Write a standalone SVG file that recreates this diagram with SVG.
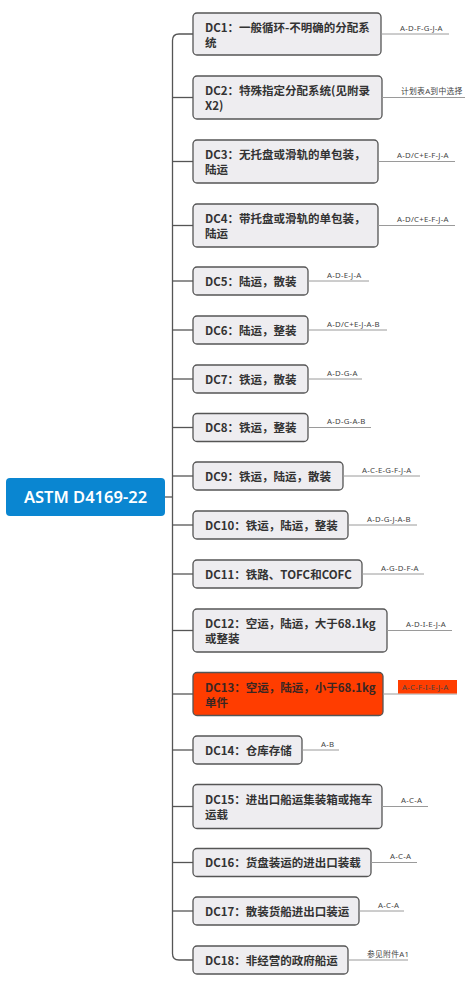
<svg xmlns="http://www.w3.org/2000/svg" width="472" height="987" viewBox="0 0 472 987">
<style>
.bg{fill:#ffffff}
.node{fill:#EEEDF0;stroke:#555555;stroke-width:1.3}
.hot{fill:#FF3D00;stroke:#555555;stroke-width:1.3}
.t{font-family:"Noto Sans CJK SC","Noto Sans",sans-serif;font-size:11.5px;font-weight:bold;fill:#333333}
.th{font-family:"Noto Sans CJK SC","Noto Sans",sans-serif;font-size:11.5px;font-weight:bold;fill:#3a2622}
.lbl{font-family:"Noto Sans","Noto Sans CJK SC",sans-serif;font-size:7.8px;fill:#444444;letter-spacing:0.25px}
.ul{stroke:#9a9a9a;stroke-width:1;fill:none}
.con{stroke:#555555;stroke-width:1.3;fill:none}
.root{fill:#0A86D1}
.rt{font-family:"Noto Sans","Liberation Sans",sans-serif;font-size:16.5px;font-weight:600;fill:#ffffff}
</style>
<rect class="bg" x="0" y="0" width="472" height="987"/>
<g id="connectors">
<path class="con" d="M165,497 H172.5"/>
<path class="con" d="M193,34 H179 Q172.5,34 172.5,40.5 V953.5 Q172.5,960 179,960 H193"/>
<path class="con" d="M172.5,97.5 H193"/>
<path class="con" d="M172.5,161.5 H193"/>
<path class="con" d="M172.5,225.5 H193"/>
<path class="con" d="M172.5,281 H193"/>
<path class="con" d="M172.5,330 H193"/>
<path class="con" d="M172.5,379 H193"/>
<path class="con" d="M172.5,427.5 H193"/>
<path class="con" d="M172.5,476 H193"/>
<path class="con" d="M172.5,525 H193"/>
<path class="con" d="M172.5,574 H193"/>
<path class="con" d="M172.5,630.5 H193"/>
<path class="con" d="M172.5,694 H193"/>
<path class="con" d="M172.5,750 H193"/>
<path class="con" d="M172.5,806.5 H193"/>
<path class="con" d="M172.5,862.5 H193"/>
<path class="con" d="M172.5,911 H193"/>
</g>
<g id="root">
<rect class="root" x="6" y="478" width="159" height="38" rx="4"/>
<text class="rt" x="85.5" y="502.8" text-anchor="middle">ASTM D4169-22</text>
</g>
<g id="dc1">
<rect class="node" x="193" y="13" width="188" height="42" rx="4"/>
<text class="t" x="205" y="32">DC1：一般循环-不明确的分配系<tspan x="205" dy="15">统</tspan></text>
<path class="ul" d="M381,34 H449"/>
<text class="lbl" x="400" y="30.5">A-D-F-G-J-A</text>
</g>
<g id="dc2">
<rect class="node" x="193" y="76" width="189" height="43" rx="4"/>
<text class="t" x="205" y="95">DC2：特殊指定分配系统(见附录<tspan x="205" dy="15">X2)</tspan></text>
<path class="ul" d="M382,97.5 H465"/>
<text class="lbl" x="401" y="94">计划表A到中选择</text>
</g>
<g id="dc3">
<rect class="node" x="193" y="140" width="185" height="43" rx="4"/>
<text class="t" x="205" y="159">DC3：无托盘或滑轨的单包装，<tspan x="205" dy="15">陆运</tspan></text>
<path class="ul" d="M378,161.5 H455"/>
<text class="lbl" x="397" y="158">A-D/C+E-F-J-A</text>
</g>
<g id="dc4">
<rect class="node" x="193" y="204" width="185" height="43" rx="4"/>
<text class="t" x="205" y="223">DC4：带托盘或滑轨的单包装，<tspan x="205" dy="15">陆运</tspan></text>
<path class="ul" d="M378,225.5 H455"/>
<text class="lbl" x="397" y="222">A-D/C+E-F-J-A</text>
</g>
<g id="dc5">
<rect class="node" x="193" y="267" width="115" height="28" rx="4"/>
<text class="t" x="205" y="285.5">DC5：陆运，散装</text>
<path class="ul" d="M308,281 H369"/>
<text class="lbl" x="327" y="277.5">A-D-E-J-A</text>
</g>
<g id="dc6">
<rect class="node" x="193" y="316" width="115" height="28" rx="4"/>
<text class="t" x="205" y="334.5">DC6：陆运，整装</text>
<path class="ul" d="M308,330 H387"/>
<text class="lbl" x="327" y="326.5">A-D/C+E-J-A-B</text>
</g>
<g id="dc7">
<rect class="node" x="193" y="365" width="115" height="28" rx="4"/>
<text class="t" x="205" y="383.5">DC7：铁运，散装</text>
<path class="ul" d="M308,379 H362"/>
<text class="lbl" x="327" y="375.5">A-D-G-A</text>
</g>
<g id="dc8">
<rect class="node" x="193" y="413.5" width="115" height="28" rx="4"/>
<text class="t" x="205" y="432">DC8：铁运，整装</text>
<path class="ul" d="M308,427.5 H371"/>
<text class="lbl" x="327" y="424">A-D-G-A-B</text>
</g>
<g id="dc9">
<rect class="node" x="193" y="462" width="150" height="28" rx="4"/>
<text class="t" x="205" y="480.5">DC9：铁运，陆运，散装</text>
<path class="ul" d="M343,476 H420"/>
<text class="lbl" x="362" y="472.5">A-C-E-G-F-J-A</text>
</g>
<g id="dc10">
<rect class="node" x="193" y="511" width="155" height="28" rx="4"/>
<text class="t" x="205" y="529.5">DC10：铁运，陆运，整装</text>
<path class="ul" d="M348,525 H417"/>
<text class="lbl" x="367" y="521.5">A-D-G-J-A-B</text>
</g>
<g id="dc11">
<rect class="node" x="193" y="560" width="169" height="28" rx="4"/>
<text class="t" x="205" y="578.5">DC11：铁路、TOFC和COFC</text>
<path class="ul" d="M362,574 H424"/>
<text class="lbl" x="381" y="570.5">A-G-D-F-A</text>
</g>
<g id="dc12">
<rect class="node" x="193" y="609" width="194" height="43" rx="4"/>
<text class="t" x="205" y="628">DC12：空运，陆运，大于68.1kg<tspan x="205" dy="15">或整装</tspan></text>
<path class="ul" d="M387,630.5 H452"/>
<text class="lbl" x="406" y="627">A-D-I-E-J-A</text>
</g>
<g id="dc13">
<rect class="hot" x="193" y="672.5" width="190" height="43" rx="4"/>
<text class="th" x="205" y="691.5">DC13：空运，陆运，小于68.1kg<tspan x="205" dy="15">单件</tspan></text>
<path class="ul" d="M383,694 H457"/>
<rect x="398" y="680" width="59" height="13.5" fill="#FF3D00"/>
<text class="lbl" x="402" y="689.5">A-C-F-I-E-J-A</text>
</g>
<g id="dc14">
<rect class="node" x="193" y="736" width="109" height="28" rx="4"/>
<text class="t" x="205" y="754.5">DC14：仓库存储</text>
<path class="ul" d="M302,750 H339"/>
<text class="lbl" x="321" y="746.5">A-B</text>
</g>
<g id="dc15">
<rect class="node" x="193" y="784.5" width="189" height="44" rx="4"/>
<text class="t" x="205" y="804">DC15：进出口船运集装箱或拖车<tspan x="205" dy="15">运载</tspan></text>
<path class="ul" d="M382,806.5 H428"/>
<text class="lbl" x="401" y="803">A-C-A</text>
</g>
<g id="dc16">
<rect class="node" x="193" y="848.5" width="178" height="28" rx="4"/>
<text class="t" x="205" y="867">DC16：货盘装运的进出口装载</text>
<path class="ul" d="M371,862.5 H417"/>
<text class="lbl" x="390" y="859">A-C-A</text>
</g>
<g id="dc17">
<rect class="node" x="193" y="897" width="166" height="28" rx="4"/>
<text class="t" x="205" y="915.5">DC17：散装货船进出口装运</text>
<path class="ul" d="M359,911 H404"/>
<text class="lbl" x="378" y="907.5">A-C-A</text>
</g>
<g id="dc18">
<rect class="node" x="193" y="946" width="155" height="28" rx="4"/>
<text class="t" x="205" y="964.5">DC18：非经营的政府船运</text>
<path class="ul" d="M348,960 H408"/>
<text class="lbl" x="367" y="956.5">参见附件A1</text>
</g>
</svg>
